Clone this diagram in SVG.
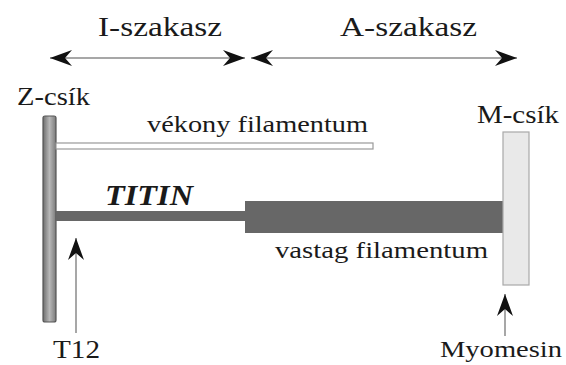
<svg xmlns="http://www.w3.org/2000/svg" width="566" height="365" viewBox="0 0 566 365">
<style>
.t{font-family:"Liberation Serif","DejaVu Serif",serif;fill:#1a1a1a}
.c{stroke:#8a8a8a;stroke-width:1.5;fill:none}
</style>
<defs>
<marker id="ah" markerUnits="userSpaceOnUse" viewBox="0 -10 22 20" refX="22" refY="0" markerWidth="22" markerHeight="20" orient="auto-start-reverse">
<path d="M22,0 L0,-8 L7,0 L0,8 z" fill="#111"/>
</marker>
<linearGradient id="zg" x1="0" x2="1" y1="0" y2="0">
<stop offset="0" stop-color="#6e6e6e"/>
<stop offset="0.5" stop-color="#b8b8b8"/>
<stop offset="1" stop-color="#7a7a7a"/>
</linearGradient>
</defs>
<rect width="566" height="365" fill="#fff"/>
<g id="labels">
<text class="t" x="98" y="36" font-size="27" textLength="124" lengthAdjust="spacingAndGlyphs">I-szakasz</text>
<text class="t" x="340" y="36" font-size="27" textLength="137" lengthAdjust="spacingAndGlyphs">A-szakasz</text>
</g>
<g id="connectors">
<line class="c" x1="50" y1="58" x2="245" y2="58" marker-start="url(#ah)" marker-end="url(#ah)"/>
<line class="c" x1="251" y1="58" x2="517" y2="58" marker-start="url(#ah)" marker-end="url(#ah)"/>
<line class="c" x1="76" y1="333" x2="76" y2="238" marker-end="url(#ah)"/>
<line class="c" x1="505" y1="336" x2="505" y2="294" marker-end="url(#ah)"/>
</g>
<g id="z-disc">
<rect x="43" y="116" width="13" height="206" rx="2" fill="url(#zg)" stroke="#555" stroke-width="1.2"/>
<text class="t" x="17" y="105" font-size="25" textLength="73" lengthAdjust="spacingAndGlyphs">Z-csík</text>
</g>
<g id="thin-filament">
<rect x="56" y="143" width="317" height="6" fill="#fff" stroke="#999" stroke-width="1.2"/>
<text class="t" x="147" y="132" font-size="24" textLength="221" lengthAdjust="spacingAndGlyphs">vékony filamentum</text>
</g>
<g id="titin">
<rect x="56" y="211" width="190" height="10" fill="#676767"/>
<text x="105" y="205" font-family="'Liberation Serif',serif" font-weight="bold" font-style="italic" font-size="29" fill="#1a1a1a" textLength="88" lengthAdjust="spacingAndGlyphs">TITIN</text>
</g>
<g id="thick-filament">
<rect x="245" y="201" width="258" height="32" fill="#676767"/>
<text class="t" x="275" y="258" font-size="24" textLength="213" lengthAdjust="spacingAndGlyphs">vastag filamentum</text>
</g>
<g id="m-line">
<rect x="503" y="132" width="26" height="153" fill="#e9e9e9" stroke="#a8a8a8" stroke-width="1.2"/>
<text class="t" x="477" y="123" font-size="25" textLength="82" lengthAdjust="spacingAndGlyphs">M-csík</text>
</g>
<g id="t12">
<text class="t" x="53" y="358" font-size="25" textLength="47" lengthAdjust="spacingAndGlyphs">T12</text>
</g>
<g id="myomesin">
<text class="t" x="440" y="357" font-size="24" textLength="122" lengthAdjust="spacingAndGlyphs">Myomesin</text>
</g>
</svg>
